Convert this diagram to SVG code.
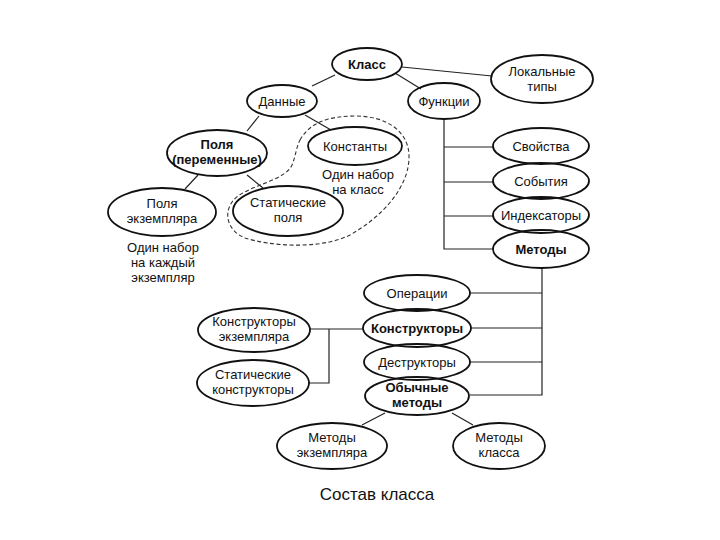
<svg xmlns="http://www.w3.org/2000/svg" width="720" height="540" viewBox="0 0 720 540">
<style>
.n{fill:none;stroke:#111;stroke-width:1.8}
.c{fill:none;stroke:#222;stroke-width:1.2}
.d{fill:none;stroke:#333;stroke-width:1.1;stroke-dasharray:4 2.5}
text{font-family:"Liberation Sans",Arial,sans-serif;font-size:13px;fill:#111;text-anchor:middle}
.b{font-weight:bold}
.cap{font-size:17px}
</style>
<rect width="720" height="540" fill="#fff"/>
<g id="connectors">
<line class="c" x1="312" y1="86" x2="335" y2="75"/>
<line class="c" x1="395" y1="73" x2="421" y2="89"/>
<line class="c" x1="402" y1="67" x2="492" y2="76"/>
<line class="c" x1="259" y1="116" x2="247" y2="131"/>
<line class="c" x1="305" y1="115" x2="331" y2="130"/>
<line class="c" x1="198" y1="175" x2="185" y2="189"/>
<line class="c" x1="247" y1="175" x2="263" y2="188"/>
<polyline class="c" points="444,119 444,249 493,249"/>
<line class="c" x1="444" y1="147" x2="493" y2="147"/>
<line class="c" x1="444" y1="182" x2="493" y2="182"/>
<line class="c" x1="444" y1="216" x2="493" y2="216"/>
<polyline class="c" points="542,268 542,395 470,395"/>
<line class="c" x1="542" y1="293" x2="470" y2="293"/>
<line class="c" x1="542" y1="328" x2="471" y2="328"/>
<line class="c" x1="542" y1="362" x2="470" y2="362"/>
<line class="c" x1="310" y1="329" x2="363" y2="329"/>
<polyline class="c" points="329,329 329,383 308,383"/>
<line class="c" x1="385" y1="413" x2="362" y2="425"/>
<line class="c" x1="452" y1="413" x2="473" y2="425"/>
</g>
<path id="group-outline" class="d" d="M300,140 C310,122 330,116 355,116 C385,116 408,130 409,155 C410,185 385,215 350,235 C320,250 270,246 245,238 C225,230 222,208 238,196 C255,184 285,180 292,165 C296,155 296,148 300,140 Z"/>
<g id="klass"><ellipse class="n" cx="367" cy="64" rx="35" ry="16"/><text class="b" x="367" y="68.5">Класс</text></g>
<g id="dannye"><ellipse class="n" cx="282" cy="101" rx="35" ry="16"/><text x="282" y="105.5">Данные</text></g>
<g id="funktsii"><ellipse class="n" cx="444" cy="101" rx="36" ry="18"/><text x="444" y="105.5">Функции</text></g>
<g id="lokalnye"><ellipse class="n" cx="542" cy="79" rx="51" ry="24"/><text x="542" y="76">Локальные</text><text x="542" y="91">типы</text></g>
<g id="polya"><ellipse class="n" cx="217" cy="153" rx="50" ry="23"/><text class="b" x="217" y="149">Поля</text><text class="b" x="217" y="164">(переменные)</text></g>
<g id="konstanty"><ellipse class="n" cx="355" cy="146" rx="47" ry="19"/><text x="355" y="150.5">Константы</text></g>
<g id="polya-ekz"><ellipse class="n" cx="162" cy="212" rx="54" ry="24"/><text x="162" y="208">Поля</text><text x="162" y="223">экземпляра</text></g>
<g id="stat-polya"><ellipse class="n" cx="288" cy="211" rx="55" ry="25"/><text x="288" y="207">Статические</text><text x="288" y="222">поля</text></g>
<g id="note-class"><text x="358" y="179">Один набор</text><text x="358" y="194">на класс</text></g>
<g id="note-each"><text x="163" y="252">Один набор</text><text x="163" y="267">на каждый</text><text x="163" y="282">экземпляр</text></g>
<g id="svoistva"><ellipse class="n" cx="541" cy="146" rx="48" ry="18"/><text x="541" y="150.5">Свойства</text></g>
<g id="sobytiya"><ellipse class="n" cx="541" cy="181" rx="48" ry="18"/><text x="541" y="185.5">События</text></g>
<g id="indeksatory"><ellipse class="n" cx="541" cy="215" rx="48" ry="18"/><text x="541" y="219.5">Индексаторы</text></g>
<g id="metody"><ellipse class="n" cx="541" cy="249" rx="48" ry="19"/><text class="b" x="541" y="253.5">Методы</text></g>
<g id="operatsii"><ellipse class="n" cx="417" cy="293" rx="53" ry="18"/><text x="417" y="297.5">Операции</text></g>
<g id="konstruktory"><ellipse class="n" cx="417" cy="328" rx="54" ry="19"/><text class="b" x="417" y="332.5">Конструкторы</text></g>
<g id="destruktory"><ellipse class="n" cx="417" cy="362" rx="53" ry="18"/><text x="417" y="366.5">Деструкторы</text></g>
<g id="obychnye"><ellipse class="n" cx="417" cy="396" rx="52" ry="19"/><text class="b" x="417" y="392">Обычные</text><text class="b" x="417" y="407">методы</text></g>
<g id="konstr-ekz"><ellipse class="n" cx="254" cy="330" rx="56" ry="22"/><text x="254" y="326">Конструкторы</text><text x="254" y="341">экземпляра</text></g>
<g id="stat-konstr"><ellipse class="n" cx="253" cy="383" rx="56" ry="23"/><text x="253" y="379">Статические</text><text x="253" y="394">конструкторы</text></g>
<g id="metody-ekz"><ellipse class="n" cx="332" cy="446" rx="55" ry="23"/><text x="332" y="442">Методы</text><text x="332" y="457">экземпляра</text></g>
<g id="metody-klassa"><ellipse class="n" cx="499" cy="446" rx="46" ry="23"/><text x="499" y="442">Методы</text><text x="499" y="457">класса</text></g>
<text class="cap" x="377" y="500">Состав класса</text>
</svg>
